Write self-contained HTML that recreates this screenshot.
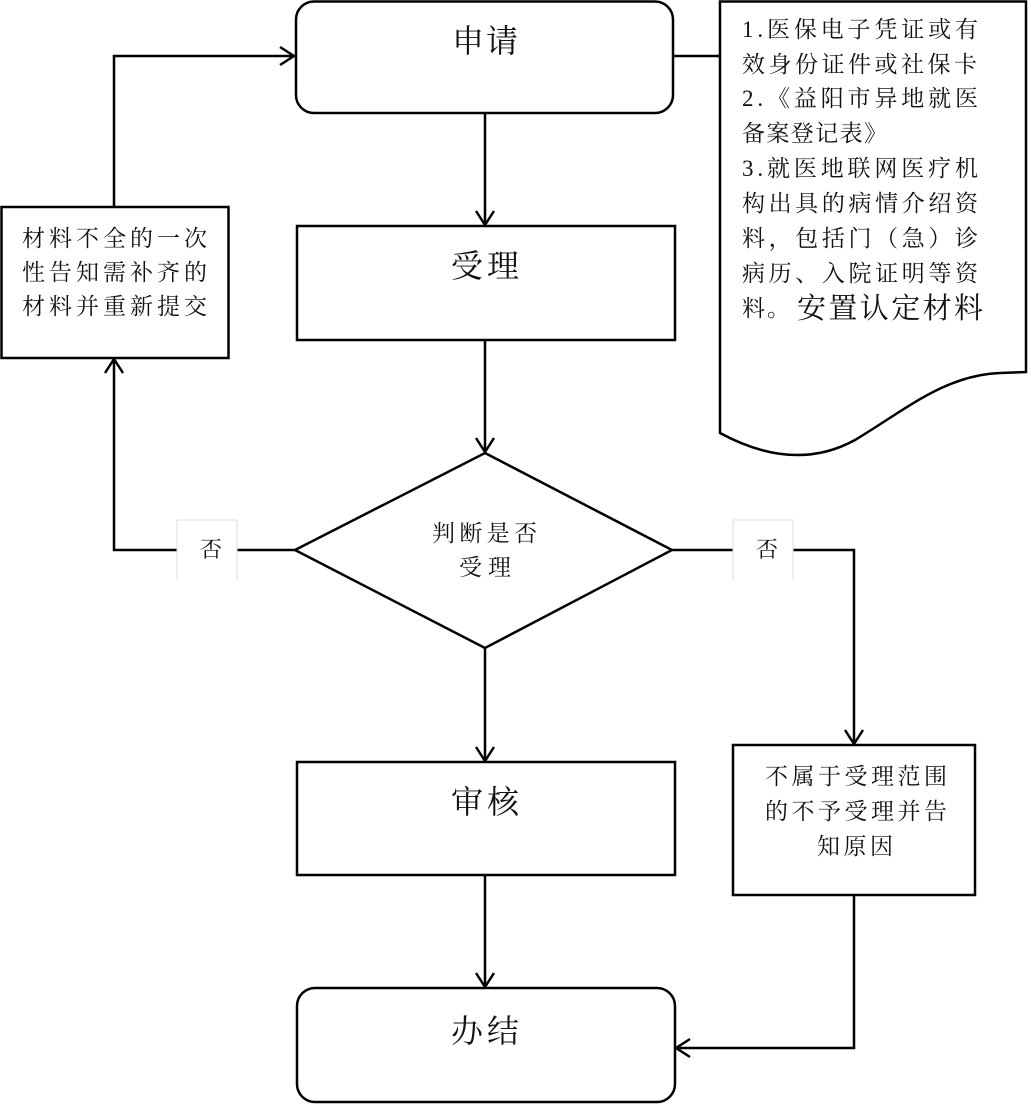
<!DOCTYPE html>
<html>
<head>
<meta charset="utf-8">
<style>
html,body{margin:0;padding:0;background:#fff;}
svg{display:block;}
text{font-family:"Liberation Serif","Noto Serif CJK SC",serif;fill:#111;}
</style>
</head>
<body>
<svg width="1031" height="1106" viewBox="0 0 1031 1106" xmlns="http://www.w3.org/2000/svg">
<rect width="1031" height="1106" fill="#fff"/>
<g fill="none" stroke="#000" stroke-width="2.5" stroke-linejoin="miter">
  <!-- 申请 -->
  <rect x="296" y="1.5" width="377" height="111.5" rx="18" ry="18"/>
  <!-- 受理 -->
  <rect x="297" y="226" width="378" height="114"/>
  <!-- diamond -->
  <polygon points="485,453 672,550 485,648 295,550"/>
  <!-- 审核 -->
  <rect x="297" y="762" width="378" height="113"/>
  <!-- 办结 -->
  <rect x="297" y="988" width="378" height="114" rx="18" ry="18"/>
  <!-- left box -->
  <rect x="1.5" y="207" width="227" height="151"/>
  <!-- right box -->
  <rect x="733" y="745" width="242" height="150"/>
  <!-- document shape -->
  <path d="M720,1.5 L1026,1.5 L1026,372 L1000,373 C945,375 905,410 855,440 C815,462 770,460 720,433 Z"/>

  <!-- connectors -->
  <line x1="485" y1="113" x2="485" y2="225"/>
  <polyline points="476,211 485,225 494,211"/>
  <line x1="485" y1="340" x2="485" y2="452"/>
  <polyline points="476,438 485,452 494,438"/>
  <line x1="485" y1="648" x2="485" y2="761"/>
  <polyline points="476,747 485,761 494,747"/>
  <line x1="485" y1="875" x2="485" y2="987"/>
  <polyline points="476,973 485,987 494,973"/>

  <!-- left loop -->
  <polyline points="295,550 237,550"/>
  <polyline points="177,550 114,550 114,359"/>
  <polyline points="105,373 114,359 123,373"/>
  <polyline points="114,207 114,56 294,56"/>
  <polyline points="280,47 294,56 280,65"/>

  <!-- 申请 to document -->
  <line x1="673" y1="56" x2="720" y2="56"/>

  <!-- right branch -->
  <polyline points="672,550 733,550"/>
  <polyline points="793,550 854,550 854,744"/>
  <polyline points="845,730 854,744 863,730"/>
  <polyline points="854,895 854,1048 676,1048"/>
  <polyline points="690,1039 676,1048 690,1057"/>
</g>

<!-- label boxes 否 -->
<g fill="#fff" stroke="#ddd" stroke-width="1">
  <path d="M177,580 L177,520 L237,520 L237,580"/>
  <path d="M733,580 L733,520 L793,520 L793,580"/>
</g>
<text x="211" y="557" font-size="22" text-anchor="middle">否</text>
<text x="767" y="557" font-size="22" text-anchor="middle">否</text>

<!-- main labels -->
<text x="485" y="52" font-size="32" text-anchor="middle" textLength="66" lengthAdjust="spacing">申请</text>
<text x="485" y="277" font-size="32" text-anchor="middle" textLength="68" lengthAdjust="spacing">受理</text>
<text x="485" y="813" font-size="32" text-anchor="middle" textLength="68" lengthAdjust="spacing">审核</text>
<text x="485" y="1042" font-size="32" text-anchor="middle" textLength="68" lengthAdjust="spacing">办结</text>

<!-- diamond text -->
<text x="432" y="541" font-size="23" textLength="105" lengthAdjust="spacing">判断是否</text>
<text x="459" y="575" font-size="23" textLength="52" lengthAdjust="spacing">受理</text>

<!-- left box text -->
<text x="22" y="246" font-size="23" textLength="185" lengthAdjust="spacing">材料不全的一次</text>
<text x="22" y="280" font-size="23" textLength="185" lengthAdjust="spacing">性告知需补齐的</text>
<text x="22" y="314" font-size="23" textLength="185" lengthAdjust="spacing">材料并重新提交</text>

<!-- right box text -->
<text x="765" y="784" font-size="23" textLength="182" lengthAdjust="spacing">不属于受理范围</text>
<text x="765" y="819" font-size="23" textLength="182" lengthAdjust="spacing">的不予受理并告</text>
<text x="817" y="854" font-size="23" textLength="76" lengthAdjust="spacing">知原因</text>

<!-- document text -->
<text x="742" y="37" font-size="23" textLength="236" lengthAdjust="spacing">1.医保电子凭证或有</text>
<text x="742" y="72" font-size="23" textLength="235" lengthAdjust="spacing">效身份证件或社保卡</text>
<text x="742" y="106" font-size="23" textLength="236" lengthAdjust="spacing">2.《益阳市异地就医</text>
<text x="742" y="141" font-size="23" textLength="145" lengthAdjust="spacing">备案登记表》</text>
<text x="742" y="176" font-size="23" textLength="236" lengthAdjust="spacing">3.就医地联网医疗机</text>
<text x="742" y="211" font-size="23" textLength="236" lengthAdjust="spacing">构出具的病情介绍资</text>
<text x="742" y="246" font-size="23" textLength="236" lengthAdjust="spacing">料，包括门（急）诊</text>
<text x="742" y="281" font-size="23" textLength="236" lengthAdjust="spacing">病历、入院证明等资</text>
<text x="742" y="316" font-size="23" textLength="48" lengthAdjust="spacing">料。</text>
<text x="797" y="318" font-size="29" textLength="186" lengthAdjust="spacing">安置认定材料</text>
</svg>
</body>
</html>
